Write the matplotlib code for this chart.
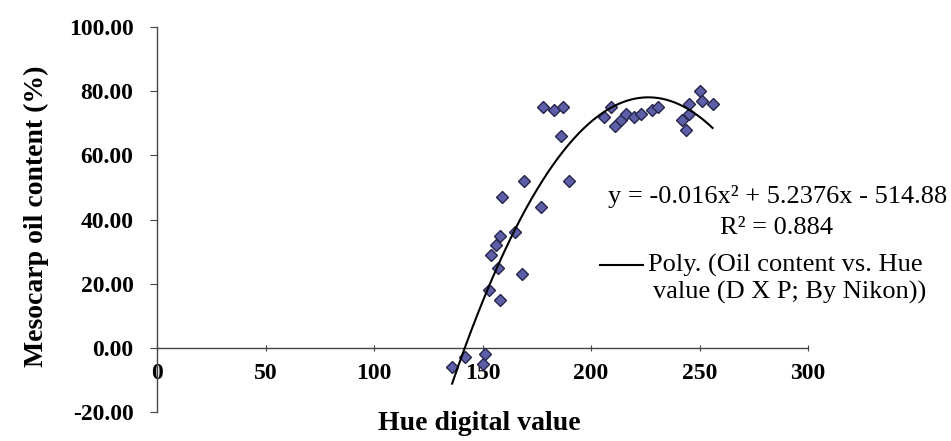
import numpy as np
import matplotlib
matplotlib.use('Agg')
import matplotlib.pyplot as plt
from matplotlib.lines import Line2D

# Hue digital value vs mesocarp oil content
hue = [136, 142, 150, 151, 153, 154, 156, 157, 158, 158, 159, 165, 168, 169,
       177, 178, 183, 187, 186, 190, 206, 209, 211, 214, 216, 220, 223, 228,
       231, 242, 244, 245, 245, 250, 251, 256]
oil = [-6, -3, -5, -2, 18, 29, 32, 25, 15, 35, 47, 36, 23, 52,
       44, 75, 74, 75, 66, 52, 72, 75, 69, 71, 73, 72, 73, 74,
       75, 71, 68, 73, 76, 80, 77, 76]

x_ticks = [0, 50, 100, 150, 200, 250, 300]
y_ticks = [-20, 0, 20, 40, 60, 80, 100]

plt.rcParams['font.family'] = ['Liberation Serif', 'DejaVu Serif']

fig = plt.figure(figsize=(9.51, 4.41), dpi=100)
ax = fig.add_axes([157 / 951, 29 / 441, 651 / 951, 385 / 441])

# scatter points
ax.plot(hue, oil, 'D', ms=6.5, mfc='#5c5fa8', mec='#26264a', mew=1.0, zorder=3)

# 2nd order polynomial trendline
coef = np.polyfit(hue, oil, 2)
xs = np.linspace(min(hue), max(hue), 200)
ax.plot(xs, np.polyval(coef, xs), color='black', lw=1.5, zorder=4)

ax.set_xlim(0, 300)
ax.set_ylim(-20, 100)
ax.spines['top'].set_visible(False)
ax.spines['right'].set_visible(False)
ax.spines['bottom'].set_position(('data', 0))
for s in ['left', 'bottom']:
    ax.spines[s].set_color('#444444')
    ax.spines[s].set_linewidth(1)

ax.set_xticks(x_ticks)
ax.set_yticks(y_ticks)
ax.set_yticklabels(['%.2f' % v for v in y_ticks])
ax.tick_params(axis='y', direction='out', length=5, pad=12, labelsize=17,
               color='#444444')
ax.tick_params(axis='x', direction='inout', length=4, pad=9, labelsize=17,
               color='#444444')
for lab in ax.get_xticklabels() + ax.get_yticklabels():
    lab.set_fontweight('bold')

fig.text(36 / 951, 1 - 216 / 441, 'Mesocarp oil content (%)', rotation=90,
         ha='center', va='center', fontsize=20, fontweight='bold')
fig.text(479 / 951, 1 - 424 / 441, 'Hue digital value', ha='center',
         va='center', fontsize=20, fontweight='bold')

# trendline equation
fig.text(947 / 951, 1 - 197 / 441, 'y = -0.016x² + 5.2376x - 514.88',
         ha='right', va='center', fontsize=19)
fig.text(777 / 951, 1 - 228 / 441, 'R² = 0.884', ha='center', va='center',
         fontsize=19)

# legend
fig.add_artist(Line2D([600 / 951, 643 / 951], [1 - 265 / 441, 1 - 265 / 441],
                      color='black', lw=1.5))
fig.text(648 / 951, 1 - 265 / 441, 'Poly. (Oil content vs. Hue',
         ha='left', va='center', fontsize=19)
fig.text(653 / 951, 1 - 292 / 441, 'value (D X P; By Nikon))',
         ha='left', va='center', fontsize=19)

fig.savefig('out.png', dpi=100, facecolor='white')
